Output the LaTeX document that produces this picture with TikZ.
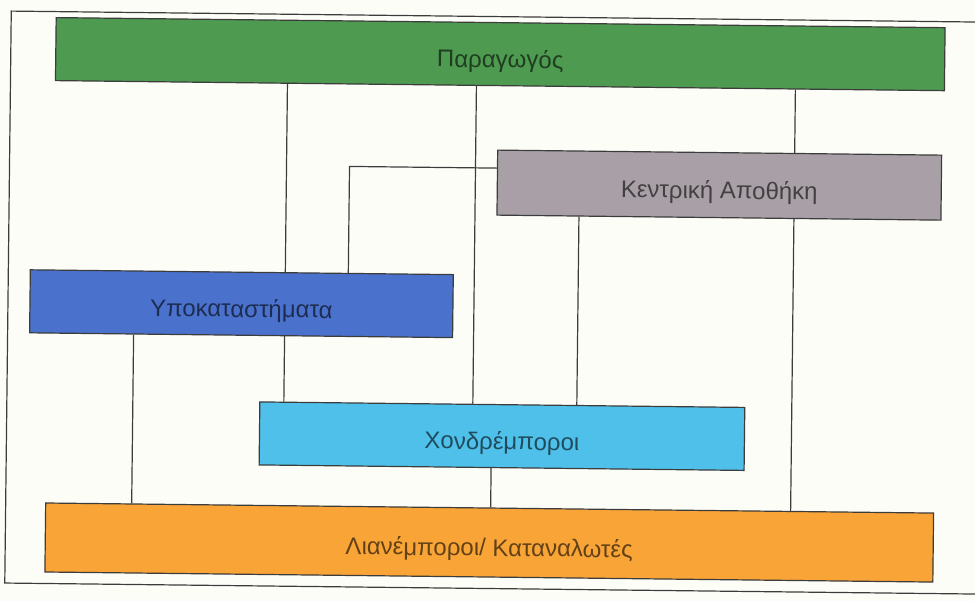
\documentclass[tikz,border=0pt]{standalone}
\usepackage{fontspec}
\setmainfont{Liberation Sans}
\usepackage{xcolor}
\usepackage{tikz}
\usetikzlibrary{
    calc,
    backgrounds % links go behind the boxes
}
\definecolor{prodgreen}{HTML}{4E9A50}
\definecolor{storegrey}{HTML}{A8A0A6}
\definecolor{branchblue}{HTML}{4A72CC}
\definecolor{wholeblue}{HTML}{4FC0EA}
\definecolor{retailorange}{HTML}{F8A437}
\definecolor{paper}{HTML}{FDFDF8}
\definecolor{ink}{HTML}{3C3C3C}
\tikzset{
    box/.style={draw=ink, line width=1.2pt, inner sep=0pt, text=black, text opacity=0.6,
        text height=27pt, text depth=0pt, font=\fontsize{24}{28}\selectfont},
    link/.style={draw=ink, line width=1.2pt}
}

\begin{document}
\begin{tikzpicture}[x=1pt,y=-1pt]
        \useasboundingbox (0,0) rectangle (975,601);

    % the scan is slightly turned
    \begin{scope}[rotate around={-0.65:(487,300)}, transform shape]
        \draw (497.5,54)  node[box, fill=prodgreen,    minimum width=889, minimum height=63](prod){Παραγωγός};
        \draw (718,182.5) node[box, fill=storegrey,    minimum width=444, minimum height=65](store){Κεντρική Αποθήκη};
        \draw (241.5,306.5) node[box, fill=branchblue, minimum width=423, minimum height=63](branch){Υποκαταστήματα};
        \draw (503.5,436) node[box, fill=wholeblue,    minimum width=485, minimum height=63](whole){Χονδρέμποροι};
        \draw (492,542.5) node[box, fill=retailorange, minimum width=888, minimum height=69](retail){Λιανέμποροι/ Καταναλωτές};

        \begin{scope}[on background layer]
        \fill[paper] (-50,-50) rectangle (1050,650);
        \draw[ink, line width=1.2pt] (1000,16.5) -- (8,16.5) -- (8,588.5) -- (1000,588.5);

        \draw[link] (285,0 |- prod.south) -- (285,0 |- whole.north);
        \draw[link] (474,0 |- prod.south) -- (474,0 |- whole.north);
        \draw[link] (793,0 |- prod.south) -- (793,0 |- retail.north);
        \draw[link] (store.west |- 0,168) -| (348,0 |- branch.north);
        \draw[link] (578,0 |- store.south) -- (578,0 |- whole.north);
        \draw[link] (134,0 |- branch.south) -- (134,0 |- retail.north);
        \draw[link] (493,0 |- whole.south) -- (493,0 |- retail.north);
        \end{scope}
    \end{scope}
    \end{tikzpicture}
\end{document}
